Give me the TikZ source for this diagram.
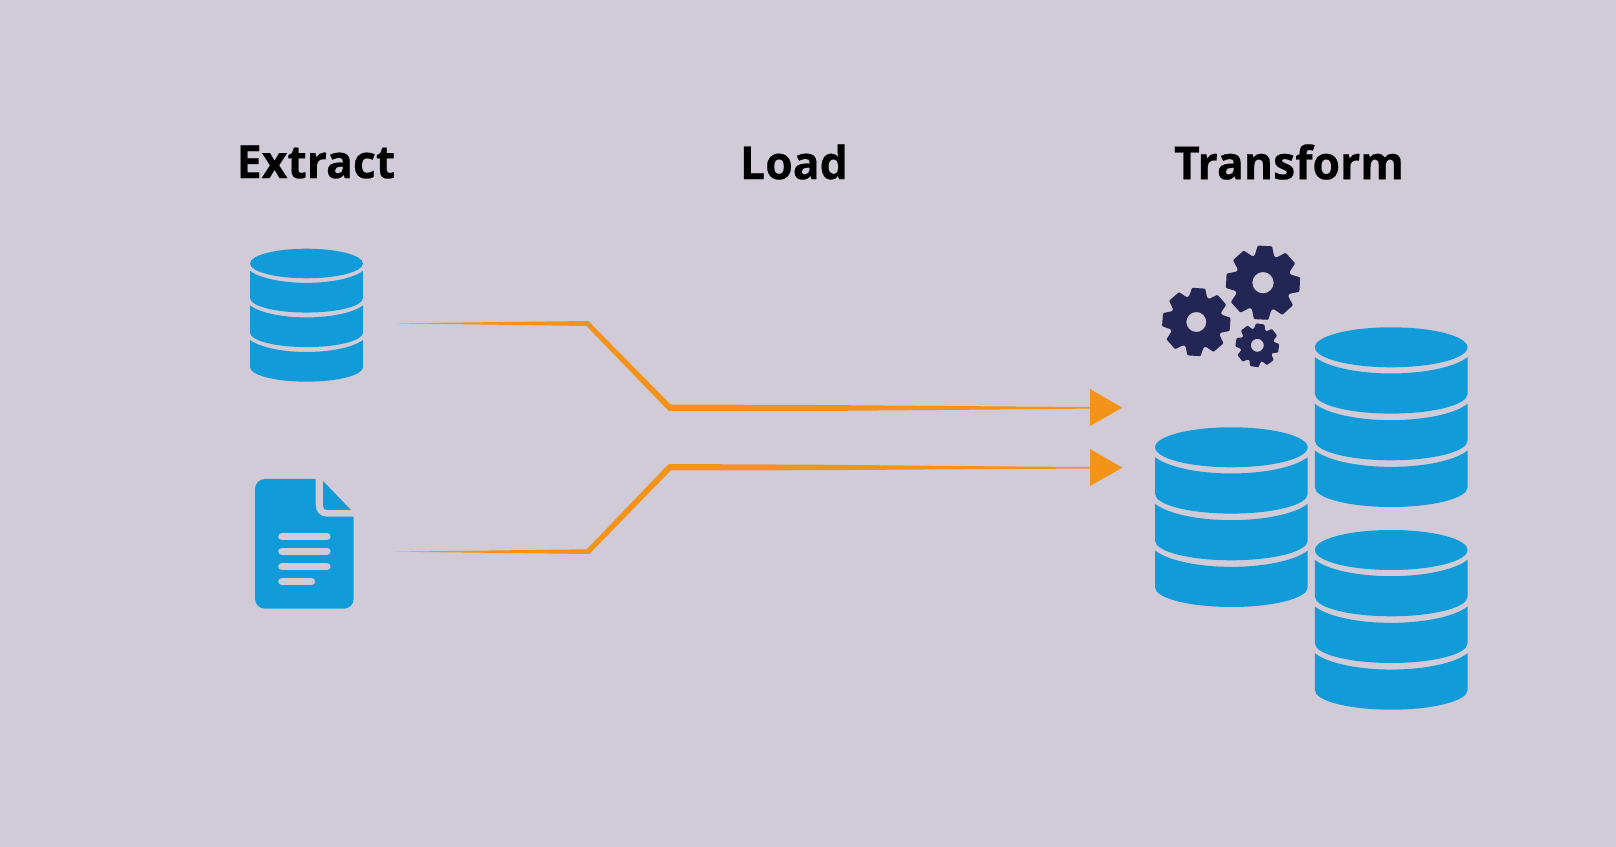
\documentclass[tikz,border=0pt]{standalone}
\usepackage{fontspec}
\setmainfont{Open Sans}[BoldFeatures={FakeBold=0.5,FakeStretch=0.975}]
\usetikzlibrary{calc}
\definecolor{bgmauve}{HTML}{D1CAD7}
\definecolor{dbblue}{HTML}{119CD9}
\definecolor{flowgold}{HTML}{F39419}
\definecolor{gearnavy}{HTML}{232654}
\tikzset{
  heading/.style={inner sep=0pt,font=\fontsize{26pt}{30pt}\selectfont\bfseries,text=black},
  flow/.style={fill=flowgold},
  docline/.style={draw=bgmauve,line width=4.3pt,line cap=round}
}
% x, y of the top ellipse centre, then size
\newcommand{\dbstack}[3]{
\begin{scope}[shift={(#1,-#2)},scale=#3]
\fill [dbblue] (0,0) ellipse (76.3 and 20);
\foreach \t/\b in {9.9/46.7,56.6/93.4,103.3/140.1}
  \fill [dbblue] (-76.3,-\t) -- (-76.3,-\b) arc [start angle=180,end angle=360,x radius=76.3,y radius=19.6]
    -- (76.3,-\t) arc [start angle=-22,end angle=-158,x radius=82.3,y radius=26] -- cycle;
\end{scope}
}
% x, y, tip radius, root radius, hole radius, turn
\newcommand{\gearwheel}[6]{
\begin{scope}[shift={(#1,-#2)}]
\fill [gearnavy,even odd rule,rounded corners=0.5pt] ({#6-20}:#4)
  \foreach \k in {0,...,7} {
    -- ({#6+45*\k-20}:#4) -- ({#6+45*\k-11}:#3) -- ({#6+45*\k+11}:#3) -- ({#6+45*\k+20}:#4)
  } -- cycle (0,0) circle (#5);
\end{scope}
}

\begin{document}
\begin{tikzpicture}[x=0.02cm,y=0.02cm]
\fill [bgmauve] (0,0) rectangle (1616,-847);
\useasboundingbox (0,0) rectangle (1616,-847);
% headings
\node [heading] (extractlbl) at (316,-162) {Extract};
\node [heading] (loadlbl) at (794,-162) {Load};
\node [heading] (transformlbl) at (1289,-162) {Transform};
% sources
\dbstack{306.5}{263.5}{0.74}
\fill [dbblue] (315.7,-479) -- (265,-479) arc [start angle=90,end angle=180,radius=10] -- (255,-598.7)
  arc [start angle=180,end angle=270,radius=10] -- (343.7,-608.7) arc [start angle=270,end angle=360,radius=10]
  -- (353.7,-516.7) -- (326.7,-516.7) .. controls (320,-516.7) and (315.7,-512) .. (315.7,-505) -- cycle;
\fill [dbblue] (323,-481) -- (323,-506) .. controls (323,-508.5) and (324.5,-510) .. (327,-510) -- (351,-510) -- cycle;
\foreach \y/\e in {536.3/326.8,551.3/326.8,566.7/326.8,581.7/311.4}
  \draw [docline] (282,-\y) -- (\e,-\y);
% flows
\coordinate (srcone) at (396,-323.3);
\coordinate (bendonea) at (588.3,-321);
\coordinate (bendoneb) at (586.5,-326);
\coordinate (bendonec) at (670.7,-404.5);
\coordinate (bendoned) at (668.7,-411);
\coordinate (tipone) at (1122.3,-407.7);
\fill [flow] (srcone) -- (bendonea) -- (bendonec) -- ($(tipone)+(-305,2.7)$) -- ($(tipone)+(-122,1.3)$) -- ($(tipone)+(-32.3,.7)$)
  -- ($(tipone)+(-32.3,18.7)$) -- (tipone) -- ($(tipone)+(-32.3,-18.3)$) -- ($(tipone)+(-32.3,-.9)$)
  -- ($(tipone)+(-122,-1.8)$) -- ($(tipone)+(-305,-3.3)$) -- (bendoned) -- (bendoneb) -- cycle;
\coordinate (srctwo) at (394.5,-551.7);
\coordinate (bendtwoa) at (586.7,-549.3);
\coordinate (bendtwob) at (589.3,-554);
\coordinate (bendtwoc) at (668.7,-464);
\coordinate (bendtwod) at (670.7,-470.5);
\coordinate (tiptwo) at (1122.3,-467.7);
\fill [flow] (srctwo) -- (bendtwoa) -- (bendtwoc) -- ($(tiptwo)+(-305,3)$) -- ($(tiptwo)+(-122,1.3)$) -- ($(tiptwo)+(-32.3,.7)$)
  -- ($(tiptwo)+(-32.3,18.7)$) -- (tiptwo) -- ($(tiptwo)+(-32.3,-18.3)$) -- ($(tiptwo)+(-32.3,-.9)$)
  -- ($(tiptwo)+(-122,-1.3)$) -- ($(tiptwo)+(-305,-2.5)$) -- (bendtwod) -- (bendtwob) -- cycle;
% target
\gearwheel{1263}{282.7}{37.5}{28.5}{10.7}{87}
\gearwheel{1196.3}{322}{34.5}{26.5}{10}{86}
\gearwheel{1257.3}{345.3}{22}{16.8}{6.5}{82}
\dbstack{1231.4}{447.3}{1}
\dbstack{1391.2}{347.3}{1}
\dbstack{1391.2}{550}{1}
\end{tikzpicture}
\end{document}
